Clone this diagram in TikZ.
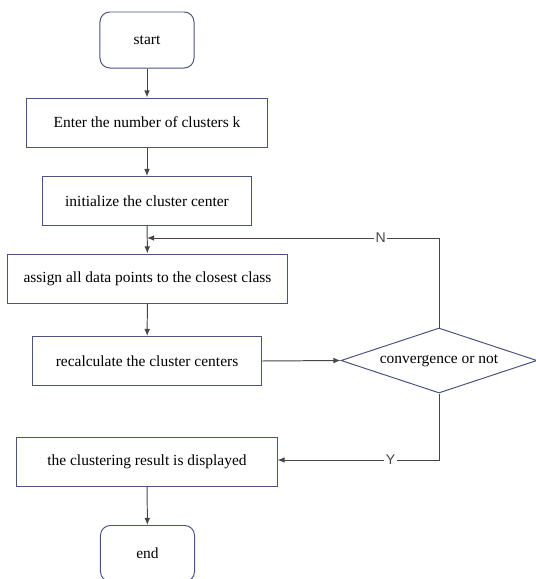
\documentclass[tikz,border=0pt]{standalone}
\usepackage{fontspec}
\setmainfont{Liberation Serif}
\setsansfont{Liberation Sans}
\usepackage{tikz}
\usetikzlibrary{shapes}
\usetikzlibrary{calc}
\usetikzlibrary{arrows.meta}
\usetikzlibrary{positioning}
\definecolor{boxline}{RGB}{74,82,128}
\definecolor{arrline}{RGB}{70,70,70}
\begin{document}
\begin{tikzpicture}[x=0.025cm, y=-0.025cm,
  every node/.style={draw=boxline, line width=0.7pt, font=\fontsize{11}{13}\selectfont, inner sep=0pt},
  term/.style={rounded corners=7pt, minimum width=2.35cm, minimum height=1.4cm},
  proc/.style={minimum height=1.225cm},
  cond/.style={diamond, aspect=3, minimum width=4.9cm, minimum height=1.625cm},
  tag/.style={draw=none, fill=white, inner sep=1pt, font=\sffamily\fontsize{10}{12}\selectfont, text=arrline},
  link/.style={draw=arrline, line width=0.7pt, -{Latex[length=5pt, width=4pt]}}]
\useasboundingbox (0,0) rectangle (535,579);
\node[term] (start) at (147,40) {start};
\node[proc, minimum width=6cm] (enter) at (147,122.5) {Enter the number of clusters k};
\node[proc, minimum width=5.2cm] (init) at (147,201) {initialize the cluster center};
\node[proc, minimum width=6.975cm] (assign) at (147.5,278.5) {assign all data points to the closest class};
\node[proc, minimum width=5.7cm] (recalc) at (147,361) {recalculate the cluster centers};
\node[cond] (conv) at (439,360.5) {convergence or not};
\node[proc, minimum width=6.5cm] (result) at (147,461.5) {the clustering result is displayed};
\node[term] (stop) at (147.5,553.5) {end};
\coordinate (loopIn) at (147,238);
\coordinate (loopTop) at (439,238);
\coordinate (yesTurn) at (439,460);
\draw[link] (start) -- (enter);
\draw[link] (enter) -- (init);
\draw[link] (init) -- (assign);
\draw[link] (assign) -- (recalc);
\draw[link] (recalc.east) -- (conv.west);
\draw[link] (conv.north) -- (loopTop) -- node[tag, pos=0.2] {N} (loopIn);
\draw[link] (conv.south) -- (yesTurn) -- node[tag, pos=0.3] {Y} (result.east |- yesTurn);
\draw[link] (result) -- (stop);
\end{tikzpicture}
\end{document}
